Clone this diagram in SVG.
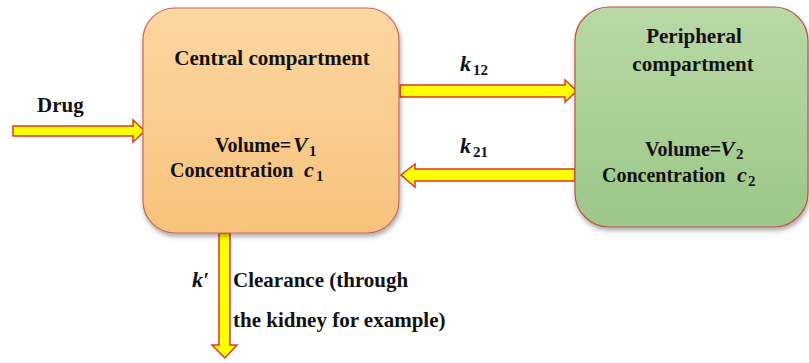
<svg xmlns="http://www.w3.org/2000/svg" width="809" height="363" viewBox="0 0 809 363">
<style>
.arrow{fill:#ffff00;stroke:#d93a2b;stroke-width:1.5;stroke-linejoin:miter}
</style>
<defs>
<linearGradient id="gOr" x1="0" y1="0" x2="0" y2="1">
<stop offset="0" stop-color="#fcd7a2"/>
<stop offset="1" stop-color="#f8c27c"/>
</linearGradient>
<linearGradient id="gGr" x1="0" y1="0" x2="0" y2="1">
<stop offset="0" stop-color="#b9d9a6"/>
<stop offset="1" stop-color="#9dc687"/>
</linearGradient>
<filter id="sh" x="-10%" y="-10%" width="120%" height="125%">
<feGaussianBlur in="SourceAlpha" stdDeviation="2.5"/>
<feOffset dx="1" dy="3" result="b"/>
<feComponentTransfer><feFuncA type="linear" slope="0.35"/></feComponentTransfer>
<feMerge><feMergeNode/><feMergeNode in="SourceGraphic"/></feMerge>
</filter>
</defs>
<rect width="809" height="363" fill="#fff"/>
<g id="connectors">
<path class="arrow" d="M13,126 H133 V120 L145,131 L133,142 V136 H13 Z"/>
<path class="arrow" d="M400,85 H565 V80 L577,91 L565,102 V97 H400 Z"/>
<path class="arrow" d="M575,169 H415 V164 L401,175 L415,187 V181 H575 Z"/>
<path class="arrow" d="M219,233 H230 V345 H237 L225,358 L212,345 H219 Z"/>
</g>
<g id="central">
<rect x="143" y="8" width="256" height="225" rx="32" fill="url(#gOr)" stroke="#d0645a" stroke-width="1.2" filter="url(#sh)"/>
<g font-family="Liberation Serif" font-weight="bold" font-size="20" fill="#111">
<text x="272" y="65" text-anchor="middle" font-size="21">Central compartment</text>
<text x="215" y="152">Volume=</text>
<text x="293" y="152" font-style="italic" font-size="22">V</text>
<text x="309" y="156" font-size="15">1</text>
<text x="170" y="177">Concentration</text>
<text x="304" y="177" font-style="italic" font-size="22">c</text>
<text x="316" y="181" font-size="15">1</text>
</g>
</g>
<g id="peripheral">
<rect x="575" y="7" width="233" height="220" rx="34" fill="url(#gGr)" stroke="#c0504d" stroke-width="1.2" filter="url(#sh)"/>
<g font-family="Liberation Serif" font-weight="bold" font-size="20" fill="#111">
<text x="694" y="43" text-anchor="middle" font-size="21">Peripheral</text>
<text x="693" y="71" text-anchor="middle" font-size="21">compartment</text>
<text x="645" y="156">Volume=</text>
<text x="720" y="156" font-style="italic" font-size="22">V</text>
<text x="736" y="159" font-size="15">2</text>
<text x="602" y="182">Concentration</text>
<text x="737" y="182" font-style="italic" font-size="22">c</text>
<text x="748" y="186" font-size="15">2</text>
</g>
</g>
<g id="labels" font-family="Liberation Serif" font-weight="bold" font-size="21" fill="#111">
<text x="37" y="112">Drug</text>
<text x="460" y="71" font-style="italic" font-size="22">k</text>
<text x="473" y="75" font-size="15">12</text>
<text x="460" y="153" font-style="italic" font-size="22">k</text>
<text x="473" y="157" font-size="15">21</text>
<text x="192" y="287" font-style="italic" font-size="22">k′</text>
<text x="233" y="287">Clearance (through</text>
<text x="233" y="327">the kidney for example)</text>
</g>
</svg>
